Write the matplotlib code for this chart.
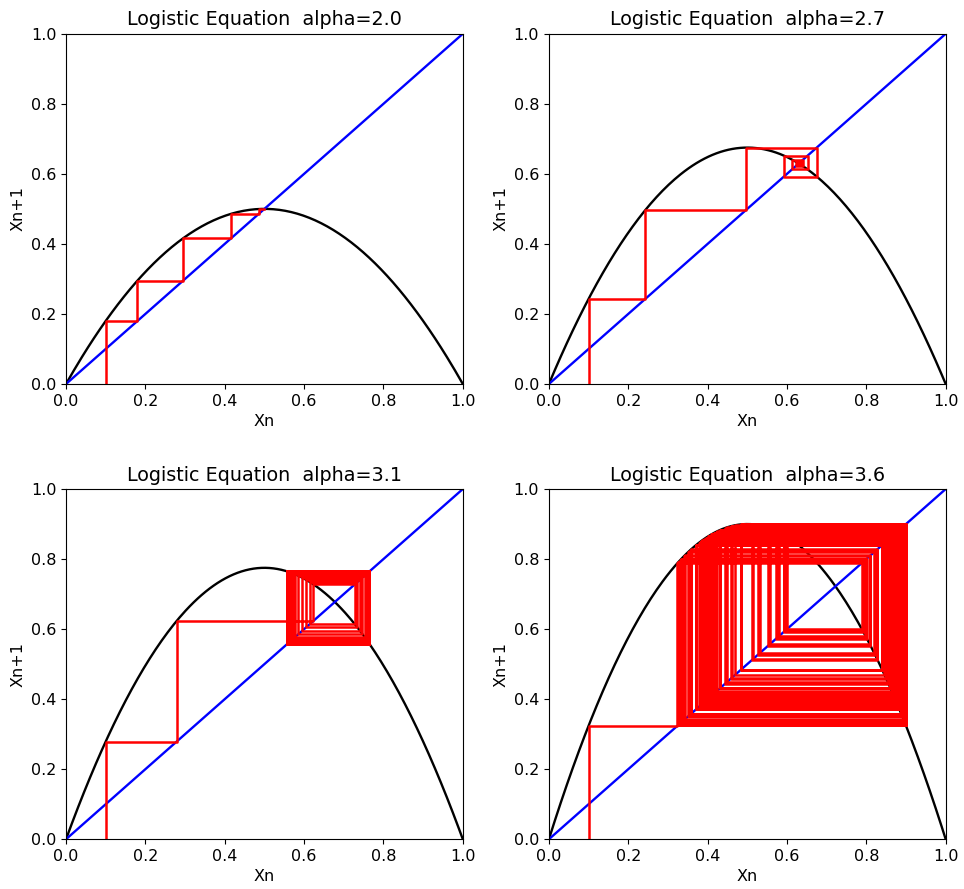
import numpy as np
import matplotlib
matplotlib.use("Agg")
import matplotlib.pyplot as plt

# parameters of the four panels
alphas = [2.0, 2.7, 3.1, 3.6]
x0 = 0.1
n_iter = 110


def logistic(x, a):
    return a * x * (1 - x)


def cobweb(a, x_start, n):
    # build the cobweb path: start on the x axis, then vertical/horizontal steps
    xs = [x_start]
    ys = [0.0]
    x = x_start
    for _ in range(n):
        y = logistic(x, a)
        xs.append(x)
        ys.append(y)
        xs.append(y)
        ys.append(y)
        x = y
    return np.array(xs), np.array(ys)


plt.rcParams["font.size"] = 11.5

fig, axes = plt.subplots(2, 2, figsize=(9.64, 8.89), dpi=100)
fig.subplots_adjust(left=0.0685, right=0.981, top=0.962, bottom=0.056,
                    wspace=0.217, hspace=0.30)

grid = np.linspace(0, 1, 200)
for ax, a in zip(axes.flat, alphas):
    ax.plot(grid, logistic(grid, a), color="black", lw=1.7)
    ax.plot([0, 1], [0, 1], color="blue", lw=1.7)
    cx, cy = cobweb(a, x0, n_iter)
    ax.plot(cx, cy, color="red", lw=1.8)
    ax.set_xlim(0, 1)
    ax.set_ylim(0, 1)
    ax.set_title(f"Logistic Equation  alpha={a}", fontsize=13.8)
    ax.set_xlabel("Xn")
    ax.set_ylabel("Xn+1")

fig.savefig("out.png", dpi=100)
